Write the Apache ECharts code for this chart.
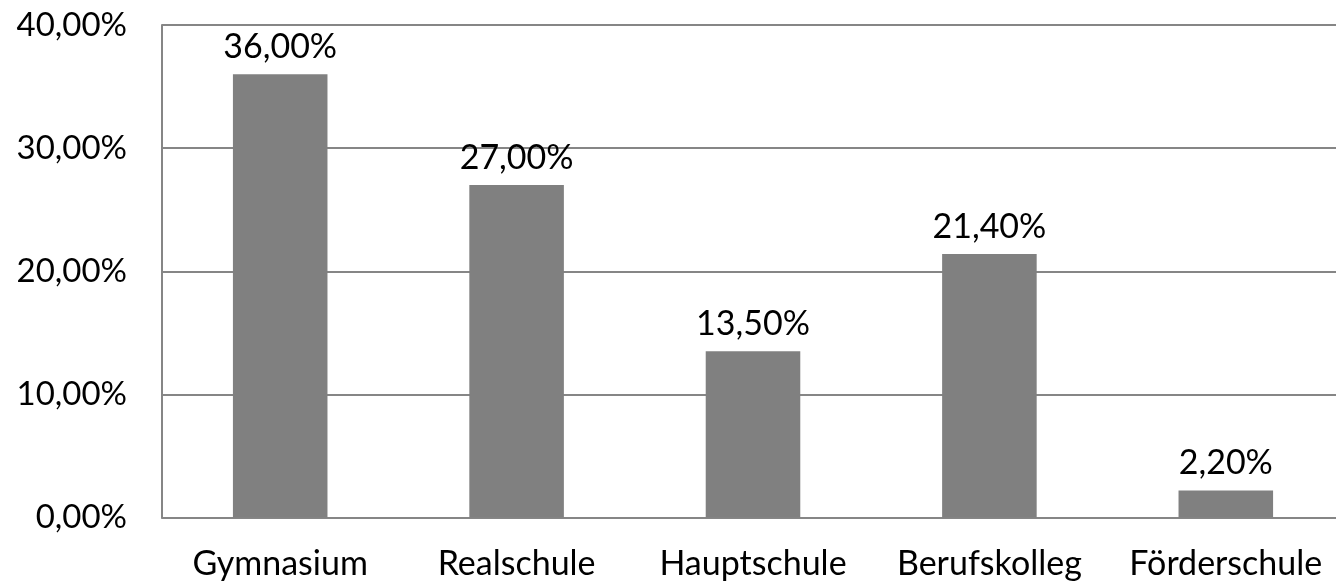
<!DOCTYPE html>
<html><head><meta charset="utf-8">
<script src="https://cdn.jsdelivr.net/npm/echarts@6/dist/echarts.min.js"></script>
<style>html,body{margin:0;padding:0;background:#fff}#c{width:1336px;height:584px}</style>
</head><body><div id="c"></div>
<script>
const categories = ['Gymnasium', 'Realschule', 'Hauptschule', 'Berufskolleg', 'Förderschule'];
const values = [36.0, 27.0, 13.5, 21.4, 2.2];
const yTicks = [0, 10, 20, 30, 40];
const fmt = v => v.toFixed(2).replace('.', ',') + '%';
const FONT = 'Lato';
const FS = 34;
const chart = echarts.init(document.getElementById('c'), null, {renderer: 'canvas'});
chart.setOption({
  animation: false,
  grid: {left: 162, top: 25, width: 1182, bottom: 66.5, containLabel: false, outerBoundsMode: 'none'},
  xAxis: {
    type: 'category', data: categories,
    axisLine: {lineStyle: {color: '#868686', width: 2}},
    axisTick: {show: false},
    axisLabel: {color: '#000', fontSize: FS, fontFamily: FONT, margin: 30, interval: 0, hideOverlap: false}
  },
  yAxis: {
    type: 'value', min: yTicks[0], max: yTicks[yTicks.length - 1], interval: 10,
    axisLine: {show: true, lineStyle: {color: '#868686', width: 2}},
    axisTick: {show: false},
    splitLine: {lineStyle: {color: '#868686', width: 2}},
    axisLabel: {color: '#000', fontSize: 33, fontFamily: FONT, margin: 35, formatter: v => fmt(v)}
  },
  series: [{
    type: 'bar', data: values, barWidth: '40%',
    itemStyle: {color: '#808080'},
    label: {show: true, position: 'top', distance: 10, color: '#000', fontSize: FS, fontFamily: FONT, formatter: p => fmt(p.value)}
  }]
});
</script></body></html>
